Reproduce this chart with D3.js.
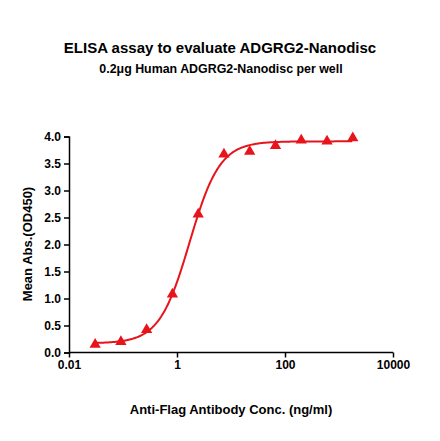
<!DOCTYPE html>
<html><head><meta charset="utf-8">
<script src="https://cdn.jsdelivr.net/npm/d3@7"></script>
<style>body{margin:0;background:#fff}text{font-family:"Liberation Sans",Arial,sans-serif;font-weight:bold}</style>
</head><body><svg id="c" width="440" height="441"></svg>
<script>
const conc = [0.0305,0.0914,0.274,0.823,2.47,7.41,22.2,66.7,200,600,1800];
const absVals = [0.15,0.20,0.42,1.08,2.56,3.67,3.72,3.83,3.93,3.91,3.97];
const xTicks = [0.01,1,100,10000];
const xTickLabels = ["0.01","1","100","10000"];
const yTicks = [0,0.5,1,1.5,2,2.5,3,3.5,4];
const fitBottom = 0.17, fitTop = 3.91, fitEC50 = 1.71, fitHill = 1.55;

const svg = d3.select("#c");
const x = d3.scaleLog().domain([0.01,10000]).range([69,393]);
const y = d3.scaleLinear().domain([0,4]).range([352.5,136.5]);
const red = "#e8141b";

svg.append("text").attr("x",220).attr("y",53).attr("text-anchor","middle").attr("font-size",15).text("ELISA assay to evaluate ADGRG2-Nanodisc");
svg.append("text").attr("x",221).attr("y",73).attr("text-anchor","middle").attr("font-size",12.4).text("0.2μg Human ADGRG2-Nanodisc per well");

const gx = svg.append("g").attr("transform","translate(0,352.5)")
  .call(d3.axisBottom(x).tickValues(xTicks).tickFormat((d,i)=>xTickLabels[i]).tickSizeOuter(0).tickSize(5));
const gy = svg.append("g").attr("transform","translate(69,0)")
  .call(d3.axisLeft(y).tickValues(yTicks).tickFormat(d3.format(".1f")).tickSizeOuter(0).tickSize(5));
[gx,gy].forEach(g=>{g.selectAll("path,line").attr("stroke","#000").attr("stroke-width",1.5);
  g.selectAll("text").attr("font-size",12).attr("font-family","Liberation Sans, Arial").attr("font-weight","bold").attr("fill","#000");});
gx.select(".domain").attr("d","M69,0H393");

svg.append("text").attr("x",231).attr("y",414).attr("text-anchor","middle").attr("font-size",13).text("Anti-Flag Antibody Conc. (ng/ml)");
svg.append("text").attr("transform","translate(32,244) rotate(-90)").attr("text-anchor","middle").attr("font-size",13).text("Mean Abs.(OD450)");

const f = c => fitBottom + (fitTop-fitBottom)/(1+Math.pow(fitEC50/c,fitHill));
const lx = d3.range(Math.log10(conc[0]), Math.log10(conc[conc.length-1])+0.001, 0.02).map(v=>Math.pow(10,v));
svg.append("path").datum(lx).attr("fill","none").attr("stroke",red).attr("stroke-width",2)
  .attr("d", d3.line().x(d=>x(d)).y(d=>y(f(d))));
svg.selectAll(".pt").data(conc).enter().append("path")
  .attr("d", d3.symbol().type(d3.symbolTriangle).size(55))
  .attr("transform",(d,i)=>`translate(${x(d)},${y(absVals[i])})`).attr("fill",red);
</script></body></html>
